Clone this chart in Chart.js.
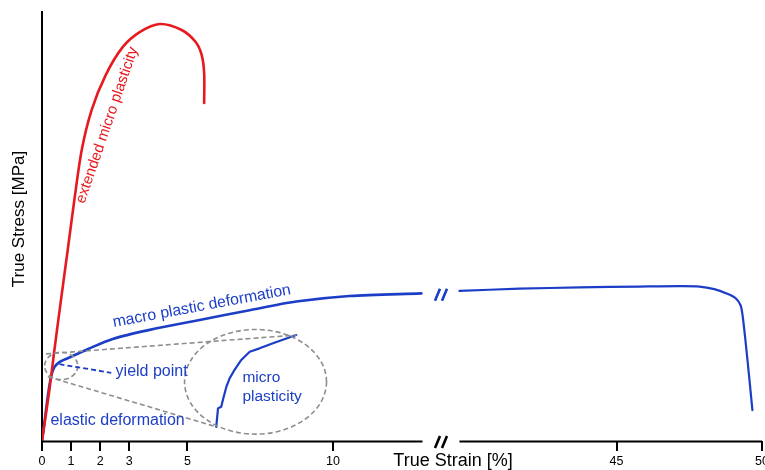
<!DOCTYPE html>
<html>
<head>
<meta charset="utf-8">
<script src="https://cdn.jsdelivr.net/npm/chart.js@4.4.0/dist/chart.umd.min.js"></script>
<style>
  html, body { margin: 0; padding: 0; background: #fff; }
  #wrap { width: 765px; height: 470px; }
</style>
</head>
<body>
<div id="wrap"><canvas id="c" width="765" height="470"></canvas></div>
<script>
// True strain [%] / true stress (relative units) of the brittle, high-strength material
const redStrain = [0, 0.254, 0.426, 0.653, 0.883, 1.113, 1.364, 1.708, 2.189, 2.773, 3.357, 4.045, 4.801, 5.282, 5.488, 5.574, 5.574];
const redStress = [0, 119, 212, 329, 445, 562, 678, 772, 853, 918, 953, 972, 958, 930, 900, 858, 788];

// Ductile material, part before the axis break
const blueStrainA = [0, 0.082, 0.196, 0.309, 0.426, 0.598, 0.883, 1.57, 2.43, 3.70, 5.42, 7.14, 8.74, 10.57, 13.04];
const blueStressA = [0, 42, 103, 149, 172, 184, 193, 214, 238, 259, 282, 305, 325, 338, 344];

// Ductile material, part after the axis break
const blueStrainB = [39.60, 41.66, 43.73, 45.79, 47.16, 47.85, 48.36, 48.78, 49.09, 49.26, 49.33, 49.43, 49.57, 49.67];
const blueStressB = [350, 355, 358, 360, 361, 360, 354, 344, 333, 317, 294, 235, 142, 72];

// Magnified view of the yield region (micro plasticity)
const zoomStrain = [5.99, 6.05, 6.16, 6.22, 6.34, 6.45, 6.62, 6.85, 7.14, 7.48, 7.94, 8.74];
const zoomStress = [33, 76, 80, 96, 127, 146, 166, 189, 208, 216, 228, 247];

// Axis ticks
const tickStrain = [0, 1, 2, 3, 5, 10, 45, 50];

// Broken strain axis: the range between the two parts is cut out
const CUT = 25.25;
const GAP_FROM = 13.08, GAP_TO = 39.6;
const toAxis = s => (s > 26 ? s - CUT : s);

const RED = '#e61a1e';
const BLUE = '#1c3ec6';
const GRAY = '#8e8e8e';
const FONT = '"Liberation Sans", Arial, Helvetica, sans-serif';

const pts = (xs, ys) => xs.map((x, i) => ({ x: toAxis(x), y: ys[i] }));

const annotate = {
  id: 'annotate',
  afterDatasetsDraw(chart) {
    const ctx = chart.ctx;
    const xs = chart.scales.x, ys = chart.scales.y;
    const X = s => xs.getPixelForValue(toAxis(s));
    const Y = v => ys.getPixelForValue(v);
    const area = chart.chartArea;

    ctx.save();

    // broken x axis line
    ctx.strokeStyle = '#000';
    ctx.lineWidth = 2;
    ctx.beginPath();
    ctx.moveTo(area.left - 1, area.bottom + 0.5);
    ctx.lineTo(X(GAP_FROM), area.bottom + 0.5);
    ctx.moveTo(X(GAP_TO), area.bottom + 0.5);
    ctx.lineTo(area.right, area.bottom + 0.5);
    ctx.stroke();

    const slashes = (cx, cy, color) => {
      ctx.strokeStyle = color;
      ctx.lineWidth = 2.6;
      ctx.lineCap = 'butt';
      ctx.beginPath();
      for (const dx of [-3.5, 3.5]) {
        ctx.moveTo(cx + dx - 2.5, cy + 6);
        ctx.lineTo(cx + dx + 2.5, cy - 6);
      }
      ctx.stroke();
    };
    const mid = (X(GAP_FROM) + X(GAP_TO)) / 2;
    slashes(mid, area.bottom + 1, '#000');
    slashes(mid, Y(341), BLUE);

    // dashed magnifier: small ellipse, connecting lines, large ellipse
    ctx.strokeStyle = GRAY;
    ctx.lineWidth = 1.6;
    ctx.setLineDash([5, 3]);
    const ellipse = (cs, cv, rs, rv) => {
      ctx.beginPath();
      ctx.ellipse(X(cs), Y(cv), X(cs + rs) - X(cs), Y(cv - rv) - Y(cv), 0, 0, Math.PI * 2);
      ctx.stroke();
    };
    ellipse(0.66, 175, 0.57, 32);
    ellipse(7.34, 138, 2.44, 122);
    const last = zoomStrain.length - 1;
    ctx.beginPath();
    ctx.moveTo(X(0.14), Y(203));
    ctx.lineTo(X(zoomStrain[last]), Y(zoomStress[last]));
    ctx.moveTo(X(0.2), Y(150));
    ctx.lineTo(X(zoomStrain[0]), Y(zoomStress[0]));
    ctx.stroke();

    // yield point pointer
    ctx.strokeStyle = BLUE;
    ctx.lineWidth = 1.8;
    ctx.setLineDash([5, 3]);
    ctx.beginPath();
    ctx.moveTo(X(0.6), Y(179));
    ctx.lineTo(X(2.38), Y(159));
    ctx.stroke();
    ctx.setLineDash([]);

    // labels
    const text = (str, s, v, opts = {}) => {
      ctx.save();
      ctx.fillStyle = opts.color || BLUE;
      ctx.font = (opts.size || 15.5) + 'px ' + FONT;
      ctx.textAlign = opts.align || 'left';
      ctx.textBaseline = opts.baseline || 'middle';
      ctx.translate(X(s), Y(v));
      if (opts.angle) ctx.rotate(opts.angle * Math.PI / 180);
      ctx.fillText(str, 0, 0);
      ctx.restore();
    };
    text('extended micro plasticity', 2.24, 736, { color: RED, size: 15, align: 'center', angle: -71 });
    text('macro plastic deformation', 5.52, 304, { align: 'center', baseline: 'alphabetic', angle: -10.5, size: 15.8 });
    text('yield point', 2.53, 161, { size: 16 });
    text('micro', 6.89, 147);
    text('plasticity', 6.89, 103);
    text('elastic deformation', 0.29, 47, { size: 16 });

    // tick labels
    ctx.fillStyle = '#000';
    ctx.font = '12.5px ' + FONT;
    ctx.textAlign = 'center';
    ctx.textBaseline = 'middle';
    tickStrain.forEach(t => ctx.fillText(String(t), X(t), area.bottom + 21));

    // axis titles
    ctx.font = '18px ' + FONT;
    ctx.fillText('True Strain [%]', 453, area.bottom + 20);
    ctx.save();
    ctx.font = '17px ' + FONT;
    ctx.translate(19, 219);
    ctx.rotate(-Math.PI / 2);
    ctx.fillText('True Stress [MPa]', 0, 0);
    ctx.restore();

    ctx.restore();
  }
};

const lineStyle = (color, width, tension) => ({
  borderColor: color,
  borderWidth: width,
  pointRadius: 0,
  fill: false,
  tension: tension,
  borderCapStyle: 'round',
  borderJoinStyle: 'round'
});

new Chart(document.getElementById('c'), {
  type: 'line',
  data: {
    datasets: [
      { data: pts(redStrain, redStress), ...lineStyle(RED, 2.6, 0.3) },
      { data: pts(blueStrainA, blueStressA), ...lineStyle(BLUE, 2.6, 0.3) },
      { data: pts(blueStrainB, blueStressB), ...lineStyle(BLUE, 2.2, 0.3) },
      { data: pts(zoomStrain, zoomStress), ...lineStyle(BLUE, 2.2, 0) }
    ]
  },
  options: {
    responsive: false,
    animation: false,
    devicePixelRatio: 1,
    layout: { padding: { left: 42, top: 12, right: 3, bottom: 0 } },
    plugins: { legend: { display: false }, tooltip: { enabled: false } },
    scales: {
      x: {
        type: 'linear',
        min: 0,
        max: toAxis(50),
        border: { display: false },
        grid: { display: true, drawOnChartArea: false, drawTicks: true, tickLength: 10, color: '#000', lineWidth: 2 },
        ticks: { display: false },
        afterBuildTicks: scale => { scale.ticks = tickStrain.map(t => ({ value: toAxis(t) })); },
        afterFit: scale => { scale.height = 29; }
      },
      y: {
        min: 0,
        max: 1000,
        border: { display: true, color: '#000', width: 2 },
        grid: { display: false },
        ticks: { display: false },
        afterFit: scale => { scale.width = 0; }
      }
    }
  },
  plugins: [annotate]
});
</script>
</body>
</html>
